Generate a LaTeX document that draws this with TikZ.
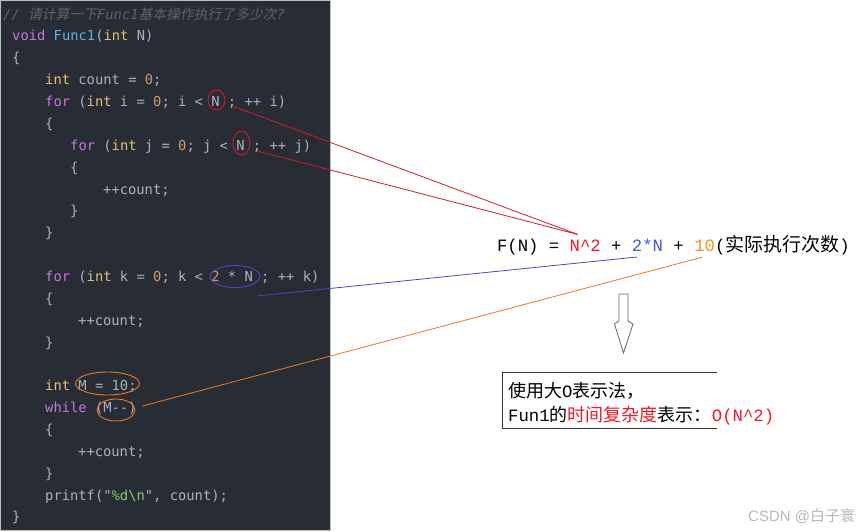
\documentclass[tikz,border=0pt]{standalone}
\usepackage{fontspec}
\usepackage{tikz}
\usetikzlibrary{positioning,calc,shapes.geometric}
\newfontfamily\fcode{DejaVu Sans Mono}
\newfontfamily\fmono{Liberation Mono}
\newfontfamily\fcjk{Noto Sans CJK SC}
\newfontfamily\fcjksl[FakeSlant=0.2]{Noto Sans CJK SC}
\newfontfamily\fmark{Liberation Sans}
\definecolor{PanelBg}{RGB}{40,44,52}
\definecolor{CodeTxt}{RGB}{171,178,191}
\definecolor{CodeKey}{RGB}{198,120,221}
\definecolor{CodeType}{RGB}{229,192,123}
\definecolor{CodeNum}{RGB}{209,154,102}
\definecolor{CodeFun}{RGB}{97,175,239}
\definecolor{CodeStr}{RGB}{152,195,121}
\definecolor{CodeCom}{RGB}{92,99,112}
\definecolor{MarkRed}{RGB}{205,30,40}
\definecolor{MarkBlue}{RGB}{70,70,200}
\definecolor{MarkOrange}{RGB}{235,120,40}
\definecolor{TxtRed}{RGB}{240,25,40}
\definecolor{TxtBlue}{RGB}{80,80,225}
\definecolor{TxtOrange}{RGB}{255,140,30}
\newcommand{\ckey}[1]{\textcolor{CodeKey}{#1}}
\newcommand{\ctype}[1]{\textcolor{CodeType}{#1}}
\newcommand{\cnum}[1]{\textcolor{CodeNum}{#1}}
\newcommand{\cfun}[1]{\textcolor{CodeFun}{#1}}
\newcommand{\cstr}[1]{\textcolor{CodeStr}{#1}}
\newcommand{\mo}[1]{{\fmono\fontsize{17.3}{20}\selectfont #1}}
\newcommand{\cw}{10.38pt}
\tikzset{codeline/.style={anchor=base west,inner sep=0pt,text=CodeTxt,font=\fcode\fontsize{13.8}{16}\selectfont}, ring/.style={ellipse,draw=#1,line width=0.9pt,inner sep=0pt}, form/.style={inner sep=0pt,outer sep=0pt,font=\fmono\fontsize{17.3}{20}\selectfont}, boxtxt/.style={anchor=base west,inner sep=0pt,font=\fcjk\fontsize{18}{21}\selectfont}, link/.style={draw=#1,line width=0.8pt}}

\begin{document}
\begin{tikzpicture}[x=1pt,y=-1pt]
\useasboundingbox (0,0) rectangle (865,532);
% code panel
\fill[PanelBg,draw=black!25] (0.5,0.5) rectangle (330.5,530.5);
\node[codeline,text=CodeCom] (l0) at (3,19.1) {\itshape // {\fcjksl 请计算一下}Func1{\fcjksl 基本操作执行了多少次}?};
\node[codeline] (l1) at (12,41.0) {\ckey{void} \cfun{Func1}(\ctype{int} N)};
\node[codeline] (l2) at (12,62.9) {\{};
\node[codeline] (l3) at (45,84.7) {\ctype{int} count = \cnum{0};};
\node[codeline] (l4) at (45,106.6) {\ckey{for} (\ctype{int} i = \cnum{0}; i < N ; ++ i)};
\node[codeline] (l5) at (45,128.4) {\{};
\node[codeline] (l6) at (70,150.3) {\ckey{for} (\ctype{int} j = \cnum{0}; j < N ; ++ j)};
\node[codeline] (l7) at (70,172.2) {\{};
\node[codeline] (l8) at (103,194.0) {++count;};
\node[codeline] (l9) at (70,215.9) {\}};
\node[codeline] (l10) at (45,237.7) {\}};
\node[codeline] (l12) at (45,281.5) {\ckey{for} (\ctype{int} k = \cnum{0}; k < \cnum{2} * N ; ++ k)};
\node[codeline] (l13) at (45,303.3) {\{};
\node[codeline] (l14) at (78,325.2) {++count;};
\node[codeline] (l15) at (45,347.0) {\}};
\node[codeline] (l17) at (45,390.8) {\ctype{int} M = 10;};
\node[codeline] (l18) at (45,412.6) {\ckey{while} (M--)};
\node[codeline] (l19) at (45,434.5) {\{};
\node[codeline] (l20) at (78,456.3) {++count;};
\node[codeline] (l21) at (45,478.2) {\}};
\node[codeline] (l22) at (45,500.0) {printf(\cstr{"\%d\textbackslash n"}, count);};
\node[codeline] (l23) at (12,521.9) {\}};
% marks on the code
\node[ring=MarkRed,minimum width=17,minimum height=20] (eNi) at (216.5,100) {};
\node[ring=MarkRed,minimum width=17,minimum height=24] (eNj) at (241.5,143) {};
\node[ring=MarkBlue,minimum width=50,minimum height=22] (eK) at (235,276.5) {};
\node[ring=MarkOrange,minimum width=64,minimum height=23] (eM) at (107.5,383.5) {};
\node[ring=MarkOrange,minimum width=38,minimum height=22] (eW) at (116,410) {};
% formula
\node[form,anchor=base west] (fA) at (497,251) {F(N) =};
\node[form,base right=\cw of fA,text=TxtRed] (fB) {N\textasciicircum2};
\node[form,base right=\cw of fB] (fC) {+};
\node[form,base right=\cw of fC,text=TxtBlue] (fD) {2*N};
\node[form,base right=\cw of fD] (fE) {+};
\node[form,base right=\cw of fE,text=TxtOrange] (fF) {10};
\node[form,base right=0pt of fF] (fG) {({\fcjk\fontsize{19}{22}\selectfont 实际执行次数})};
% links
\draw[link=MarkRed] ($(eNi.east)+(7,6)$) -- ($(fB.north west)+(8,-5)$);
\draw[link=MarkRed] ($(eNj.east)+(7,8)$) -- ($(fB.north west)+(8,-5)$);
\draw[link=MarkBlue] ($(eK.south)+(22,8)$) -- ($(fD.south west)+(5,6)$);
\draw[link=MarkOrange] ($(eW.east)+(7,-4)$) -- ($(fF.south west)+(8,6)$);
% hollow arrow
\draw[draw=black!60,fill=white,line width=0.8pt] (619,294) -- (628,294) -- (628,321) -- (633,324) -- (623.5,353) -- (614.5,324) -- (619,321) -- cycle;
% result box
\draw[draw=black!80,line width=0.9pt] (717,372.5) -| (502,428) -- (717,428);
\node[boxtxt] (bx1) at (508,397) {使用大\mo{O}表示法，};
\node[boxtxt] (bx2) at (508,421) {\mo{Fun1}的\textcolor{TxtRed}{时间复杂度}表示：};
\node[form,base right=0pt of bx2,text=TxtRed] (big) {O(N\textasciicircum2)};
% watermark
\node[anchor=base west,inner sep=0pt,text=black!28,font=\fmark\fontsize{15}{18}\selectfont] (wm) at (748,521) {CSDN @{\fcjk 白子寰}};
\end{tikzpicture}
\end{document}
